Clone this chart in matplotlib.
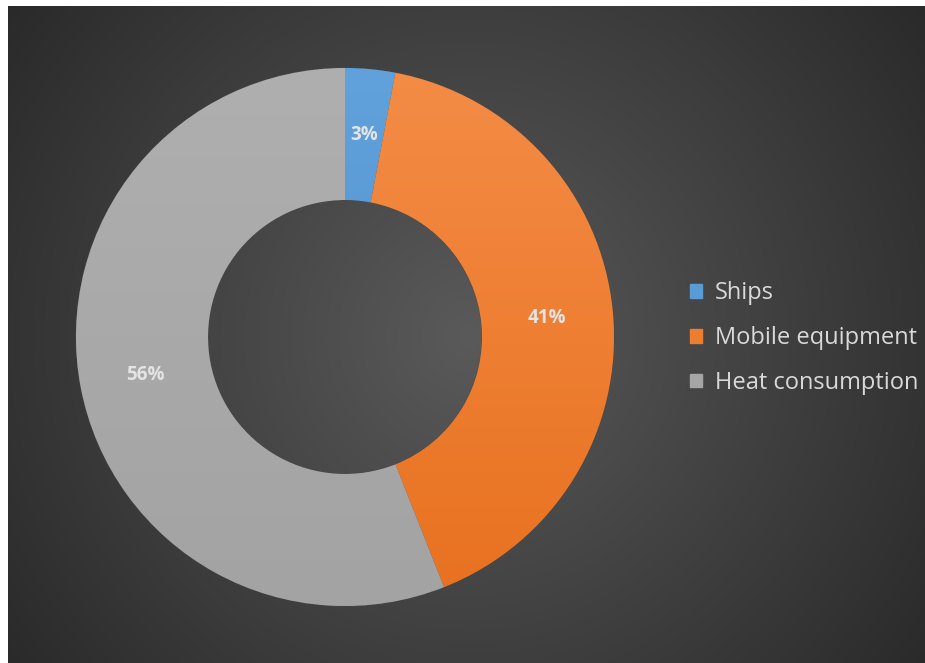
import numpy as np
import matplotlib
matplotlib.use("Agg")
import matplotlib.pyplot as plt
from matplotlib.colors import LinearSegmentedColormap

plt.rcParams['font.family'] = ['Open Sans', 'DejaVu Sans']

categories = ["Ships", "Mobile equipment", "Heat consumption"]
shares = [3, 41, 56]
pct_labels = ["3%", "41%", "56%"]
colors = ["#5b9bd5", "#ed7d31", "#a5a5a5"]
top_colors = ["#62a2dc", "#f48c46", "#afafaf"]
bottom_colors = ["#4a89c6", "#e8711f", "#a3a3a3"]

W, H = 925, 663
fig = plt.figure(figsize=(W / 100, H / 100), dpi=100)
fig.patch.set_facecolor("white")

# radial-gradient backdrop
bg = fig.add_axes([8 / W, 0, (W - 8) / W, (H - 6) / H])
bw, bh = W - 8, H - 6
yy, xx = np.mgrid[0:bh, 0:bw]
cx, cy = 460, 330
d = np.sqrt((xx - cx) ** 2 + (yy - cy) ** 2) / 600.0
d = np.clip(d, 0, 1)
lo, hi = np.array([0x27, 0x27, 0x27]) / 255, np.array([0x5a, 0x5a, 0x5a]) / 255
img = hi[None, None, :] * (1 - d[..., None]) + lo[None, None, :] * d[..., None]
bg.imshow(img, extent=[0, bw, bh, 0], aspect="auto", interpolation="bilinear")
bg.set_xlim(0, bw)
bg.set_ylim(bh, 0)
bg.axis("off")

# donut
R = 269
ax = fig.add_axes([(345 - R) / W, (H - 337 - R) / H, 2 * R / W, 2 * R / H])
wedges, _ = ax.pie(shares, colors=colors, startangle=90, counterclock=False,
                   radius=1.0,
                   wedgeprops=dict(width=1 - 137 / 269, edgecolor="#4a4a4a",
                                   linewidth=0.6))
ax.set_xlim(-1, 1)
ax.set_ylim(-1, 1)
ax.set_aspect("equal")
ax.axis("off")

# soft vertical shading inside each slice
for w, ct, cb in zip(wedges, top_colors, bottom_colors):
    cmap = LinearSegmentedColormap.from_list("shade", [cb, ct])
    grad = np.linspace(0, 1, 256).reshape(-1, 1)
    im = ax.imshow(grad, extent=[-1, 1, -1, 1], origin="lower", cmap=cmap,
                   aspect="auto", zorder=w.get_zorder() + 0.1,
                   interpolation="bilinear")
    im.set_clip_path(w)

ax.set_xlim(-1, 1)
ax.set_ylim(-1, 1)

# percentage labels at mid-ring
r_lab = (1 + 137 / 269) / 2
cum = np.cumsum([0] + shares[:-1])
total = sum(shares)
for start, s, lab in zip(cum, shares, pct_labels):
    mid = (start + s / 2) / total
    ang = np.deg2rad(90 - 360 * mid)
    ax.text(r_lab * np.cos(ang), r_lab * np.sin(ang),
            lab, ha="center", va="center", color="#e4e4e4",
            fontsize=13.5, fontweight="bold", zorder=10)

# legend
handles = [plt.Rectangle((0, 0), 1, 1, color=c) for c in colors]
leg = fig.legend(handles, categories, loc="center left",
                 bbox_to_anchor=(690 / W, 1 - 338 / H), frameon=False,
                 fontsize=17, labelcolor="#d9d9d9", handlelength=0.52,
                 handleheight=0.52, handletextpad=0.55, labelspacing=0.88,
                 borderaxespad=0, borderpad=0)

fig.savefig("out.png", dpi=100, facecolor=fig.get_facecolor())
